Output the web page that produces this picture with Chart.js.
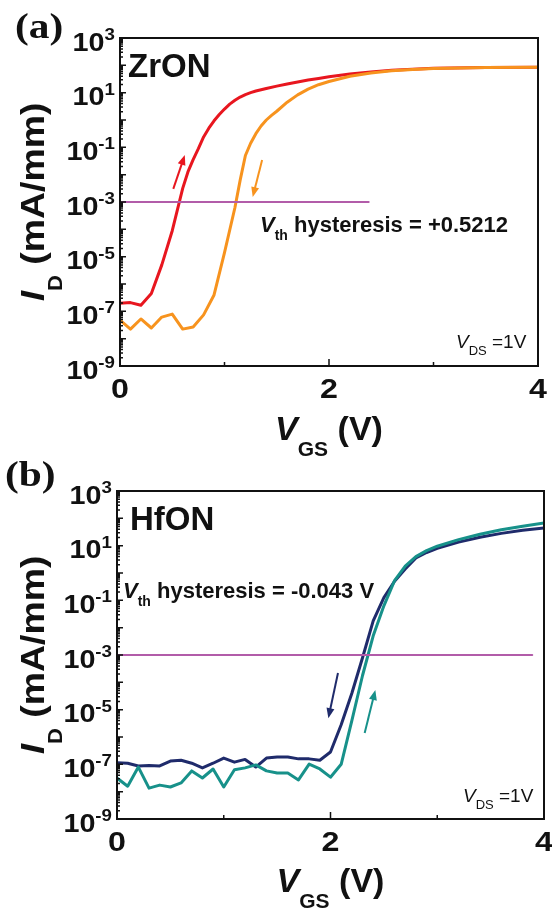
<!DOCTYPE html>
<html>
<head>
<meta charset="utf-8">
<script src="https://cdn.jsdelivr.net/npm/chart.js@4.4.1/dist/chart.umd.min.js"></script>
<style>
  body { margin: 0; background: #fff; width: 552px; height: 909px; position: relative; overflow: hidden; }
  canvas { position: absolute; left: 0; }
  #panelA { top: 0; }
  #panelB { top: 455px; }
</style>
</head>
<body>
<canvas id="panelA" width="552" height="470"></canvas>
<canvas id="panelB" width="552" height="454"></canvas>
<script>
/* Transfer curves, ID (mA/mm) vs VGS (V), log10 of ID */

// ---- panel (a) ZrON ----
const VGS_A_UP = [0, 0.1, 0.2, 0.3, 0.4, 0.5, 0.6, 0.65, 0.7, 0.75, 0.8, 0.85, 0.9, 0.95, 1.0, 1.05, 1.1, 1.15, 1.2,
                  1.25, 1.3, 1.4, 1.5, 1.6, 1.7, 1.8, 1.9, 2.0, 2.2, 2.4, 2.6, 2.8, 3.0, 3.5, 4.0];
const LOG_ID_A_UP = [-6.70, -6.68, -6.78, -6.35, -5.30, -4.05, -2.50, -1.90, -1.45, -1.05, -0.62, -0.30, -0.03, 0.20,
                     0.40, 0.58, 0.72, 0.84, 0.93, 1.00, 1.06, 1.15, 1.24, 1.32, 1.39, 1.46, 1.52, 1.58,
                     1.68, 1.76, 1.82, 1.86, 1.89, 1.92, 1.93];
const VGS_A_DOWN = [0, 0.1, 0.2, 0.3, 0.4, 0.5, 0.6, 0.7, 0.8, 0.9, 1.0, 1.1, 1.15, 1.2, 1.25, 1.3, 1.35, 1.4, 1.45,
                    1.5, 1.6, 1.7, 1.8, 1.9, 2.0, 2.2, 2.4, 2.6, 2.8, 3.0, 3.5, 4.0];
const LOG_ID_A_DOWN = [-7.32, -7.65, -7.28, -7.61, -7.21, -7.10, -7.65, -7.57, -7.13, -6.40, -4.85, -3.20,
                       -2.20, -1.30, -0.85, -0.50, -0.22, 0.00, 0.17, 0.32, 0.65, 0.92, 1.13, 1.29, 1.41,
                       1.60, 1.72, 1.80, 1.85, 1.88, 1.92, 1.93];
const VTH_LINE_A = [0, 2.38];          // VGS span of the 1e-3 mA/mm marker line
const ARROW_A_UP = [0.51, -2.52, 0.62, -1.28];     // v0, logI0, v1, logI1
const ARROW_A_DOWN = [1.36, -1.46, 1.27, -2.82];

// ---- panel (b) HfON ----
const VGS_B = [0, 0.1, 0.2, 0.3, 0.4, 0.5, 0.6, 0.7, 0.8, 0.9, 1.0, 1.1, 1.2, 1.3, 1.4, 1.5, 1.6, 1.7, 1.8, 1.9, 2.0,
               2.1, 2.2, 2.3, 2.4, 2.5, 2.6, 2.7, 2.8, 2.9, 3.0, 3.2, 3.4, 3.6, 3.8, 4.0];
const LOG_ID_B_DOWN = [-6.94, -6.96, -7.06, -7.04, -7.06, -6.88, -6.85, -6.96, -7.13, -6.96, -6.77, -6.92, -6.82, -7.10,
                       -6.77, -6.73, -6.73, -6.80, -6.80, -6.85, -6.55,
                       -5.55, -4.40, -3.10, -1.75, -0.90, -0.30, 0.15, 0.55, 0.75, 0.90, 1.13, 1.31, 1.45, 1.56, 1.65];
const LOG_ID_B_UP = [-7.50, -7.80, -7.10, -7.87, -7.76, -7.83, -7.68, -7.24, -7.50, -7.17, -7.83, -7.20, -7.13, -7.02,
                     -7.24, -7.32, -7.32, -7.57, -6.99, -7.17, -7.47,
                     -7.00, -5.40, -3.75, -2.30, -1.20, -0.28, 0.25, 0.60, 0.82, 0.98, 1.22, 1.42, 1.58, 1.71, 1.83];
const VTH_LINE_B = [0, 3.89];
const ARROW_B_DOWN = [2.07, -3.66, 1.98, -5.31];
const ARROW_B_UP = [2.32, -5.85, 2.42, -4.28];

// axis ticks
const Y_LABEL_EXP = [3, 1, -1, -3, -5, -7, -9];
const X_TICK_LABELS = [0, 2, 4];
const X_MINOR = [1, 3];

const VTH_LEVEL = 1e-3;

const C = {
  red: "#e8161f", orange: "#f7931e", purple: "#b25ca9",
  navy: "#1f2b6b", teal: "#17918a", ink: "#111"
};
const SANS = "'Liberation Sans', Arial, sans-serif";
const SERIF = "'Liberation Serif', 'Times New Roman', serif";

/* ---- text helper: runs of text with their own font / offset / stretch ---- */
function runsWidth(ctx, runs) {
  return runs.reduce((w, r) => { ctx.font = r.font; return w + ctx.measureText(r.t).width * (r.sx || 1); }, 0);
}
function drawRuns(ctx, runs, x, y, align = "left") {
  const w = runsWidth(ctx, runs);
  let cx = align === "right" ? x - w : align === "center" ? x - w / 2 : x;
  ctx.save();
  ctx.fillStyle = C.ink;
  ctx.textBaseline = "alphabetic";
  ctx.textAlign = "left";
  runs.forEach(r => {
    const sx = r.sx || 1;
    ctx.font = r.font;
    ctx.save();
    ctx.translate(cx, y + (r.dy || 0));
    ctx.scale(sx, 1);
    ctx.fillText(r.t, 0, 0);
    ctx.restore();
    cx += ctx.measureText(r.t).width * sx;
  });
  ctx.restore();
}

function drawArrow(ctx, xs, ys, a, color) {
  const x0 = xs.getPixelForValue(a[0]), y0 = ys.getPixelForValue(Math.pow(10, a[1]));
  const x1 = xs.getPixelForValue(a[2]), y1 = ys.getPixelForValue(Math.pow(10, a[3]));
  const ang = Math.atan2(y1 - y0, x1 - x0);
  const hl = 10, hw = 4;
  ctx.save();
  ctx.strokeStyle = color; ctx.fillStyle = color; ctx.lineWidth = 2;
  ctx.beginPath();
  ctx.moveTo(x0, y0);
  ctx.lineTo(x1 - Math.cos(ang) * hl * 0.8, y1 - Math.sin(ang) * hl * 0.8);
  ctx.stroke();
  ctx.beginPath();
  ctx.moveTo(x1, y1);
  ctx.lineTo(x1 - Math.cos(ang) * hl - Math.sin(ang) * hw, y1 - Math.sin(ang) * hl + Math.cos(ang) * hw);
  ctx.lineTo(x1 - Math.cos(ang) * hl + Math.sin(ang) * hw, y1 - Math.sin(ang) * hl - Math.cos(ang) * hw);
  ctx.closePath();
  ctx.fill();
  ctx.restore();
}

/* ---- frame, inward ticks, labels, annotations ---- */
function panelDecor(cfg) {
  return {
    id: "decor_" + cfg.id,
    afterDatasetsDraw(chart) {
      const ctx = chart.ctx;
      const area = chart.chartArea;
      const xs = chart.scales.x, ys = chart.scales.y;

      ctx.save();
      ctx.strokeStyle = C.ink;
      // inward ticks on the y axis
      ctx.lineWidth = 1.5;
      ctx.beginPath();
      for (let e = -9; e <= 3; e++) {
        const py = ys.getPixelForValue(Math.pow(10, e));
        ctx.moveTo(area.left, py); ctx.lineTo(area.left + 6, py);
        if (e < 3) {
          for (let m = 2; m <= 9; m++) {
            const pm = ys.getPixelForValue(m * Math.pow(10, e));
            ctx.moveTo(area.left, pm); ctx.lineTo(area.left + 3, pm);
          }
        }
      }
      // inward ticks on the x axis
      X_TICK_LABELS.forEach(v => {
        const px = xs.getPixelForValue(v);
        ctx.moveTo(px, area.bottom); ctx.lineTo(px, area.bottom - 7);
      });
      X_MINOR.forEach(v => {
        const px = xs.getPixelForValue(v);
        ctx.moveTo(px, area.bottom); ctx.lineTo(px, area.bottom - 4);
      });
      ctx.stroke();
      // frame
      ctx.lineWidth = 2;
      ctx.strokeRect(area.left, area.top, area.right - area.left, area.bottom - area.top);
      ctx.restore();

      // y tick labels 10^n
      Y_LABEL_EXP.forEach(e => {
        const py = ys.getPixelForValue(Math.pow(10, e));
        drawRuns(ctx, [
          { t: "10", font: `bold 25px ${SANS}`, sx: 1.15, dy: 12.5 },
          { t: String(e), font: `bold 17px ${SANS}`, sx: 1.1, dy: 2 }
        ], area.left - 5, py, "right");
      });
      // x tick labels
      X_TICK_LABELS.forEach(v => {
        drawRuns(ctx, [{ t: String(v), font: `bold 28px ${SANS}`, sx: 1.15 }],
          xs.getPixelForValue(v), area.bottom + 32, "center");
      });
      // x title
      const midX = (area.left + area.right) / 2;
      drawRuns(ctx, [
        { t: "V", font: `italic bold 34px ${SANS}` },
        { t: "GS", font: `bold 21px ${SANS}`, dy: 16 },
        { t: " (V)", font: `bold 34px ${SANS}` }
      ], midX, cfg.xTitleY, "center");
      // y title (rotated)
      const midY = (area.top + area.bottom) / 2;
      ctx.save();
      ctx.translate(44, midY);
      ctx.rotate(-Math.PI / 2);
      drawRuns(ctx, [
        { t: "I", font: `italic bold 34px ${SANS}`, sx: 1.1 },
        { t: "D", font: `bold 20px ${SANS}`, sx: 1.1, dy: 18 },
        { t: " (mA/mm)", font: `bold 34px ${SANS}`, sx: 1.1 }
      ], 0, 0, "center");
      ctx.restore();

      // panel letter, material name, annotations
      drawRuns(ctx, [{ t: cfg.letter, font: `bold 36px ${SERIF}`, sx: 1.15 }], cfg.letterX, cfg.letterY);
      drawRuns(ctx, [{ t: cfg.material, font: `bold 33px ${SANS}` }], cfg.matX, cfg.matY);
      drawRuns(ctx, [
        { t: "V", font: `italic bold 22px ${SANS}` },
        { t: "th", font: `bold 14px ${SANS}`, dy: 8 },
        { t: " hysteresis = " + cfg.hyst, font: `bold 22px ${SANS}` }
      ], cfg.hystX, cfg.hystY);
      drawRuns(ctx, [
        { t: "V", font: `italic 19px ${SANS}` },
        { t: "DS", font: `13px ${SANS}`, dy: 7 },
        { t: " =1V", font: `19px ${SANS}` }
      ], cfg.vdsX, cfg.vdsY);

      cfg.arrows.forEach(a => drawArrow(ctx, xs, ys, a.pts, a.color));
    }
  };
}

function curve(vgs, logs) {
  return vgs.map((v, i) => ({ x: v, y: Math.pow(10, logs[i]) }));
}

function makePanel(canvasId, cfg) {
  return new Chart(document.getElementById(canvasId), {
    type: "line",
    data: { datasets: cfg.datasets },
    options: {
      responsive: false, animation: false, devicePixelRatio: 1,
      layout: { padding: cfg.padding },
      plugins: { legend: { display: false }, tooltip: { enabled: false }, title: { display: false } },
      scales: {
        x: { type: "linear", min: 0, max: 4, display: false },
        y: { type: "logarithmic", min: 1e-9, max: 1e3, display: false }
      },
      elements: {
        point: { radius: 0 },
        line: { tension: 0, borderWidth: 3, borderJoinStyle: "round", borderCapStyle: "round" }
      }
    },
    plugins: [panelDecor(cfg)]
  });
}

makePanel("panelA", {
  id: "a",
  padding: { left: 120, top: 38, right: 14, bottom: 104 },
  datasets: [
    { data: VTH_LINE_A.map(v => ({ x: v, y: VTH_LEVEL })), borderColor: C.purple, borderWidth: 2 },
    { data: curve(VGS_A_DOWN, LOG_ID_A_DOWN), borderColor: C.orange },
    { data: curve(VGS_A_UP, LOG_ID_A_UP), borderColor: C.red }
  ],
  letter: "(a)", letterX: 15, letterY: 38,
  material: "ZrON", matX: 128, matY: 77,
  hyst: "+0.5212", hystX: 260, hystY: 232,
  vdsX: 456, vdsY: 348,
  xTitleY: 440,
  arrows: [{ pts: ARROW_A_UP, color: C.red }, { pts: ARROW_A_DOWN, color: C.orange }]
});

makePanel("panelB", {
  id: "b",
  padding: { left: 117, top: 36, right: 8, bottom: 90 },
  datasets: [
    { data: VTH_LINE_B.map(v => ({ x: v, y: VTH_LEVEL })), borderColor: C.purple, borderWidth: 2 },
    { data: curve(VGS_B, LOG_ID_B_UP), borderColor: C.teal },
    { data: curve(VGS_B, LOG_ID_B_DOWN), borderColor: C.navy }
  ],
  letter: "(b)", letterX: 5, letterY: 31,
  material: "HfON", matX: 130, matY: 75,
  hyst: "-0.043 V", hystX: 123, hystY: 143,
  vdsX: 463, vdsY: 347,
  xTitleY: 437,
  arrows: [{ pts: ARROW_B_DOWN, color: C.navy }, { pts: ARROW_B_UP, color: C.teal }]
});
</script>
</body>
</html>
